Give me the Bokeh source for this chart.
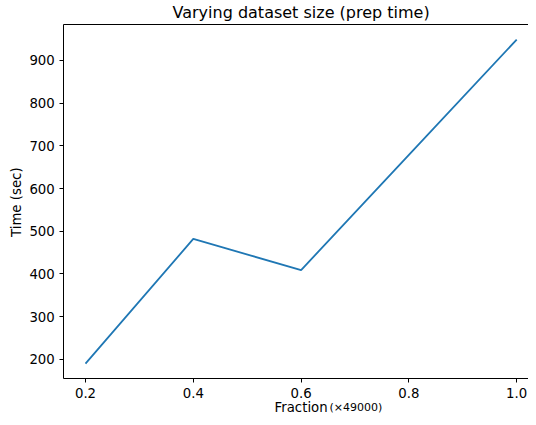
import math
from bokeh.plotting import figure
from bokeh.models import Range1d, LinearAxis, FixedTicker, Label
from bokeh.embed import file_html
from bokeh.resources import INLINE

# data
fractions = [0.2, 0.4, 0.6, 0.8, 1.0]
prep_time = [190, 482, 409, 679, 949]
x_ticks = [0.2, 0.4, 0.6, 0.8, 1.0]
y_ticks = [200, 300, 400, 500, 600, 700, 800, 900]
title_text = "Varying dataset size (prep time)"
x_label = "Fraction"
x_label_suffix = "(×49000)"
y_label = "Time (sec)"

FONT = "DejaVu Sans"

# whole canvas is the data frame; the axes box is drawn with fixed-location axes
X0, X1 = 0.0423, 1.0219          # canvas extent in x data units
Y0, Y1 = 63.66, 1040.56          # canvas extent in y data units
X_LO, X_HI = 0.1597, 1.0219      # axes box
Y_LO, Y_HI = 155.7, 983.6

p = figure(width=528, height=417, output_backend="svg", toolbar_location=None,
           x_range=Range1d(X0, X1), y_range=Range1d(Y0, Y1),
           min_border=0, min_border_left=0, min_border_right=0,
           min_border_top=0, min_border_bottom=0)

p.line(fractions, prep_time, line_color="#1f77b4", line_width=1.8)

p.xgrid.visible = False
p.ygrid.visible = False
p.outline_line_color = None
p.background_fill_color = "white"
p.border_fill_color = "white"

for ax in (p.xaxis[0], p.yaxis[0]):
    ax.axis_line_color = "black"
    ax.axis_line_width = 1
    ax.major_tick_line_color = "black"
    ax.major_tick_out = 4
    ax.major_tick_in = 0
    ax.minor_tick_out = 0
    ax.minor_tick_in = 0
    ax.major_label_text_font = FONT
    ax.major_label_text_font_size = "13.3px"
    ax.major_label_text_color = "black"

p.xaxis[0].ticker = FixedTicker(ticks=x_ticks)
p.xaxis[0].major_label_overrides = {t: f"{t:.1f}" for t in x_ticks}
p.xaxis[0].fixed_location = Y_LO
p.xaxis[0].bounds = (X_LO, X_HI)
p.xaxis[0].major_label_standoff = 6
p.yaxis[0].ticker = FixedTicker(ticks=y_ticks)
p.yaxis[0].fixed_location = X_LO
p.yaxis[0].bounds = (Y_LO, Y_HI)
p.yaxis[0].major_label_standoff = 5

# top spine
top = LinearAxis(ticker=FixedTicker(ticks=[]), major_label_text_font_size="0px",
                 major_tick_out=0, major_tick_in=0, minor_tick_out=0, minor_tick_in=0,
                 major_label_standoff=0, axis_line_color="black", axis_line_width=1,
                 fixed_location=Y_HI, bounds=(X_LO, X_HI))
p.add_layout(top, "above")

# texts
p.add_layout(Label(x=0.6, y=1012.2, text=title_text, text_font=FONT,
                   text_font_size="16px", text_color="black",
                   text_align="center", text_baseline="alphabetic"))
p.add_layout(Label(x=0.0715, y=568.0, text=y_label, text_font=FONT,
                   text_font_size="13.3px", text_color="black", angle=math.pi / 2,
                   text_align="center", text_baseline="middle"))
p.add_layout(Label(x=0.6, y=86.0, text=x_label, text_font=FONT,
                   text_font_size="13.3px", text_color="black",
                   text_align="center", text_baseline="alphabetic"))
p.add_layout(Label(x=0.6527, y=86.0, text=x_label_suffix, text_font=FONT,
                   text_font_size="11px", text_color="black",
                   text_align="left", text_baseline="alphabetic"))

open("out.html", "w").write(file_html(p, INLINE))
